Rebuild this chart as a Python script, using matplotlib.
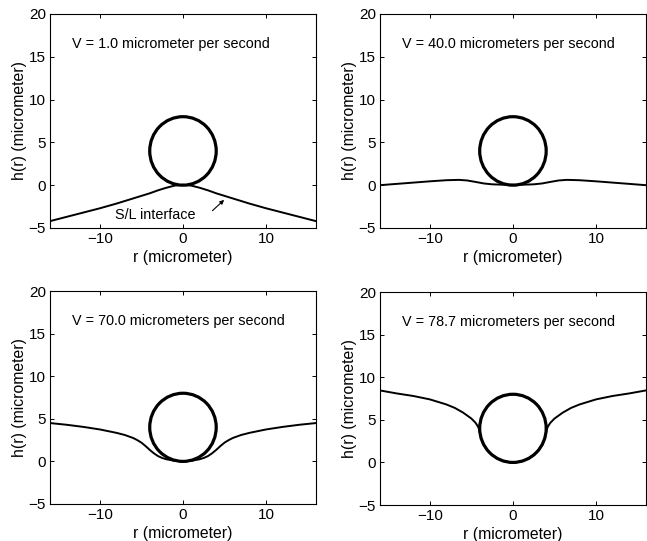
import matplotlib.pyplot as plt
from matplotlib.patches import Circle
import numpy as np

plt.rcParams['font.family'] = ['Liberation Sans', 'DejaVu Sans']

# velocities shown in each panel
titles = ['V = 1.0 micrometer per second',
          'V = 40.0 micrometers per second',
          'V = 70.0 micrometers per second',
          'V = 78.7 micrometers per second']

# half profiles (r <= 0), interface is symmetric about r = 0
r_v1 = [-16, -14, -12, -10, -8, -6, -4, -3, -2, -1, 0]
h_v1 = [-4.2, -3.7, -3.2, -2.7, -2.15, -1.55, -0.95, -0.6, -0.3, -0.05, 0.05]

r_v40 = [-16, -14, -12, -10, -8, -6.5, -5.5, -4.5, -3.5, -2.5, -1, 0]
h_v40 = [0.0, 0.15, 0.3, 0.45, 0.58, 0.62, 0.55, 0.38, 0.2, 0.1, 0.05, 0.05]

r_v70 = [-16, -14, -12, -10, -8, -7, -6, -5.5, -5, -4.5, -4, -3.5, -3, -2.5, -2, -1, 0]
h_v70 = [4.5, 4.3, 4.05, 3.75, 3.35, 3.1, 2.75, 2.5, 2.2, 1.8, 1.35, 0.95, 0.62, 0.4, 0.25, 0.07, 0.0]

r_v787 = [-16, -14, -12, -10, -8, -7, -6, -5, -4.5, -4.2, -4.05, -3.95, -3.85,
          -3.65, -3.4, -3.0, -2.5, -2.0, -1.5, -1.0, -0.5, 0]
h_v787 = [8.45, 8.1, 7.8, 7.4, 6.8, 6.4, 5.85, 5.15, 4.65, 4.2, 3.8, 3.3, 2.9,
          2.4, 1.9, 1.35, 0.88, 0.54, 0.29, 0.13, 0.04, 0.0]

profiles = [(r_v1, h_v1), (r_v40, h_v40), (r_v70, h_v70), (r_v787, h_v787)]

# particle: centre and radius (micrometer)
particle_center = (0, 4)
particle_radius = 4

positions = [[0.0773, 0.5786, 0.411, 0.3956],
             [0.5873, 0.5786, 0.411, 0.3956],
             [0.0773, 0.0684, 0.411, 0.3937],
             [0.5873, 0.0665, 0.411, 0.3937]]

fig = plt.figure(figsize=(6.47, 5.41), dpi=100)

for i, (r_half, h_half) in enumerate(profiles):
    ax = fig.add_axes(positions[i])
    r_half = np.array(r_half)
    h_half = np.array(h_half)
    r = np.concatenate([r_half, -r_half[::-1][1:]])
    h = np.concatenate([h_half, h_half[::-1][1:]])
    ax.plot(r, h, color='black', lw=1.4)
    ax.add_patch(Circle(particle_center, particle_radius, fill=False,
                        edgecolor='black', lw=2.3))
    ax.set_xlim(-16, 16)
    ax.set_ylim(-5, 20)
    ax.set_xticks([-10, 0, 10])
    ax.set_yticks([-5, 0, 5, 10, 15, 20])
    ax.set_xticklabels(['\u221210', '0', '10'])
    ax.set_yticklabels(['\u22125', '0', '5', '10', '15', '20'])
    ax.tick_params(direction='in', top=True, right=True, labelsize=11,
                   length=3, width=0.7, pad=3)
    for s in ax.spines.values():
        s.set_linewidth(0.8)
    ax.set_xlabel('r (micrometer)', fontsize=11.3, labelpad=2.5)
    ax.set_ylabel('h(r) (micrometer)', fontsize=11.3, labelpad=1)
    ax.text(-13.3, 16.5, titles[i], fontsize=10.4, va='center', ha='left')
    if i == 0:
        ax.text(-8.2, -3.5, 'S/L interface', fontsize=10.4, va='center', ha='left')
        ax.annotate('', xy=(5.2, -1.5), xytext=(3.3, -3.2),
                    arrowprops=dict(arrowstyle='-|>', color='black', lw=0.8,
                                    mutation_scale=6))

fig.savefig('out.png', dpi=100)
